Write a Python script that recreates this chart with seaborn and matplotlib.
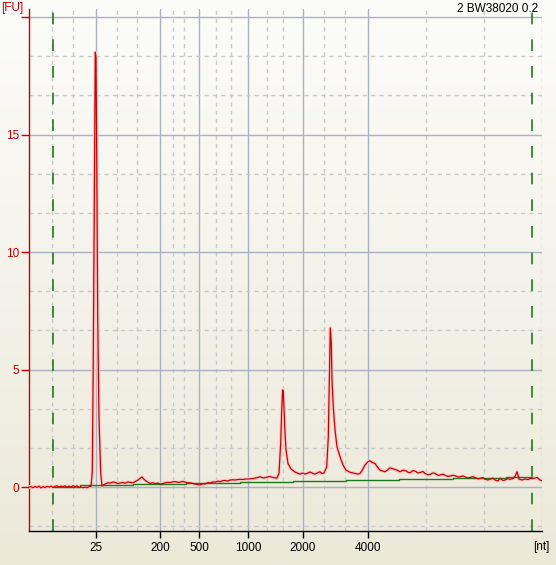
import numpy as np
import pandas as pd
import matplotlib
matplotlib.use("Agg")
import matplotlib.pyplot as plt
import seaborn as sns

# migration time (s) and fluorescence (FU)
trace_time = [19.0, 19.2, 19.4, 19.6, 19.8, 20.0, 20.2, 20.4, 20.6, 20.8, 21.0, 21.2, 21.4, 21.6,
              21.8, 22.0, 22.2, 22.4, 22.6, 22.8, 23.0, 23.2, 23.4, 23.6, 23.8, 24.0, 24.2, 24.4,
              24.6, 24.8, 25.0, 25.2, 25.33, 25.43, 25.57, 25.63, 25.7, 25.77, 25.87, 26.0, 26.17,
              26.3, 26.6, 26.9, 27.1, 27.4, 27.6, 27.9, 28.1, 28.4, 28.6, 28.9, 29.1, 29.4, 29.6,
              29.9, 30.1, 30.3, 30.5, 30.7, 30.9, 31.1, 31.4, 31.6, 31.9, 32.1, 32.4, 32.6, 32.9,
              33.1, 33.4, 33.6, 33.9, 34.1, 34.4, 34.6, 34.9, 35.1, 35.4, 35.6, 35.9, 36.1, 36.4,
              36.6, 36.9, 37.1, 37.4, 37.6, 37.9, 38.1, 38.4, 38.6, 38.9, 39.1, 39.4, 39.6, 39.9,
              40.1, 40.4, 40.6, 40.9, 41.1, 41.4, 41.6, 41.9, 42.1, 42.4, 42.6, 42.9, 43.1, 43.3,
              43.5, 43.8, 44.0, 44.17, 44.27, 44.37, 44.43, 44.5, 44.6, 44.7, 44.9, 45.2, 45.6,
              45.9, 46.1, 46.4, 46.6, 46.9, 47.1, 47.4, 47.6, 47.9, 48.1, 48.3, 48.5, 48.77, 48.93,
              49.03, 49.13, 49.23, 49.3, 49.43, 49.6, 49.8, 50.1, 50.4, 50.7, 51.1, 51.6, 51.9,
              52.1, 52.3, 52.6, 52.9, 53.1, 53.3, 53.6, 53.9, 54.1, 54.4, 54.6, 54.9, 55.1, 55.4,
              55.6, 55.9, 56.1, 56.4, 56.7, 56.9, 57.1, 57.4, 57.6, 57.9, 58.1, 58.4, 58.6, 58.9,
              59.1, 59.4, 59.6, 59.9, 60.1, 60.4, 60.6, 60.9, 61.1, 61.4, 61.6, 61.9, 62.1, 62.4,
              62.6, 62.9, 63.1, 63.4, 63.6, 63.9, 64.1, 64.4, 64.6, 64.9, 65.1, 65.4, 65.6, 65.9,
              66.1, 66.4, 66.6, 66.9, 67.1, 67.4, 67.6, 67.8, 68.0, 68.3, 68.6, 68.9, 69.1, 69.3,
              69.6, 69.8, 70.1, 70.3]
trace_fu = [0.0, 0.02, -0.03, 0.03, -0.02, 0.04, -0.04, 0.02, -0.02, 0.03, 0.0, 0.04, -0.02, 0.03,
            0.05, 0.0, 0.04, 0.02, 0.05, -0.01, 0.04, 0.0, 0.06, 0.02, 0.05, -0.01, 0.0, -0.03,
            0.0, -0.03, 0.02, 0.04, 0.64, 5.6, 14.2, 18.5, 18.3, 14.2, 7.2, 2.9, 0.6,
            0.04, 0.13, 0.18, 0.17, 0.21, 0.2, 0.15, 0.17, 0.2, 0.16, 0.22, 0.2, 0.18, 0.23,
            0.3, 0.37, 0.43, 0.33, 0.26, 0.2, 0.16, 0.18, 0.15, 0.17, 0.13, 0.15, 0.18, 0.2,
            0.19, 0.22, 0.23, 0.2, 0.21, 0.24, 0.21, 0.18, 0.18, 0.15, 0.13, 0.1, 0.09, 0.14,
            0.13, 0.19, 0.17, 0.22, 0.21, 0.25, 0.23, 0.27, 0.28, 0.26, 0.3, 0.31, 0.3, 0.32,
            0.33, 0.32, 0.34, 0.34, 0.35, 0.36, 0.38, 0.41, 0.44, 0.39, 0.4, 0.43, 0.45, 0.42,
            0.4, 0.38, 0.6, 1.87, 3.28, 4.13, 4.05, 3.28, 2.3, 1.57, 1.0, 0.77, 0.64,
            0.58, 0.55, 0.6, 0.55, 0.6, 0.64, 0.58, 0.55, 0.62, 0.65, 0.57, 0.6, 0.86, 2.14,
            4.55, 6.77, 6.1, 4.55, 3.4, 2.43, 1.71, 1.29, 0.94, 0.72, 0.63, 0.58, 0.55,
            0.58, 0.7, 0.94, 1.08, 1.12, 1.05, 1.0, 0.82, 0.72, 0.68, 0.65, 0.74, 0.82, 0.78,
            0.75, 0.7, 0.65, 0.72, 0.69, 0.63, 0.61, 0.7, 0.68, 0.6, 0.62, 0.66, 0.58, 0.52,
            0.54, 0.6, 0.58, 0.5, 0.51, 0.55, 0.5, 0.45, 0.47, 0.5, 0.48, 0.43, 0.44, 0.47,
            0.43, 0.39, 0.41, 0.44, 0.4, 0.35, 0.37, 0.4, 0.33, 0.3, 0.34, 0.38, 0.3, 0.26,
            0.37, 0.28, 0.3, 0.36, 0.33, 0.36, 0.45, 0.65, 0.34, 0.3, 0.34, 0.32, 0.36, 0.37,
            0.38, 0.41, 0.3, 0.27]

# baseline (green step line)
baseline_time = [21.4, 24.1, 29.4, 34.7, 40.1, 45.4, 50.7, 56.0, 61.4, 66.7, 69.3]
baseline_fu = [0.01, 0.09, 0.12, 0.16, 0.20, 0.25, 0.29, 0.33, 0.37, 0.43, 0.43]

# lower / upper marker positions
marker_time = [21.4, 69.3]

# size scale (nt) at ladder times
size_time = [25.7, 32.1, 36.0, 40.9, 46.4, 52.9]
size_labels = ["25", "200", "500", "1000", "2000", "4000"]
minor_time = [21.3, 23.4, 27.8, 29.8, 33.4, 34.5, 37.7, 39.2, 42.8, 44.4, 48.5, 50.6,
              58.7, 64.5, 70.3]

fu_ticks = [0, 5, 10, 15, 20]
fu_labels = ["0", "5", "10", "15", ""]
fu_minor = [-5 / 3, 5 / 3, 10 / 3, 20 / 3, 25 / 3, 35 / 3, 40 / 3, 50 / 3, 55 / 3]

sns.set_theme(style="white")
plt.rcParams["font.family"] = ["Liberation Sans", "DejaVu Sans"]

fig = plt.figure(figsize=(5.56, 5.65), dpi=100)

# background gradient over whole figure
bg = fig.add_axes([0, 0, 1, 1], zorder=-5)
top = np.array([252, 252, 250]) / 255
bot = np.array([236, 233, 217]) / 255
frac = np.linspace(0, 1, 256)[:, None]
grad = top[None, :] * (1 - frac) + bot[None, :] * frac
bg.imshow(grad[:, None, :], aspect="auto", extent=[0, 1, 0, 1])
bg.axis("off")

ax = fig.add_axes([29 / 556, 34 / 565, 513 / 556, 522 / 565])
ax.set_facecolor("none")

df = pd.DataFrame({"time": trace_time, "fu": trace_fu})
base = pd.DataFrame({"time": baseline_time, "fu": baseline_fu})

red = "#cc0000"
sns.lineplot(data=df, x="time", y="fu", ax=ax, color="#f6cccc", lw=2.6, sort=False,
             estimator=None, zorder=3)
sns.lineplot(data=base, x="time", y="fu", ax=ax, color="#1f7a1f", lw=1.0, sort=False,
             estimator=None, drawstyle="steps-post", zorder=4)
sns.lineplot(data=df, x="time", y="fu", ax=ax, color=red, lw=0.9, sort=False,
             estimator=None, zorder=5)

for t in marker_time:
    ax.axvline(t, color="#1f7a1f", lw=1.2, dashes=(7, 9), zorder=2)

ax.set_xlim(19, 70.3)
ax.set_ylim(-1.87, 20.34)

ax.set_xticks(size_time)
ax.set_xticklabels(size_labels)
ax.set_xticks(minor_time, minor=True)
ax.set_yticks(fu_ticks)
ax.set_yticklabels(fu_labels)
ax.set_yticks(fu_minor, minor=True)

ax.grid(which="major", color="#a9b1c2", lw=1.0, zorder=0)
ax.grid(which="minor", color="#c9c9c9", lw=1.0, ls=(0, (3, 3)), zorder=0)
ax.set_axisbelow(True)

ax.tick_params(axis="x", which="major", direction="out", length=5, width=1,
               color="black", labelsize=8.5, labelcolor="black", pad=3, bottom=True)
ax.tick_params(axis="y", which="major", direction="out", length=6, width=1,
               color=red, labelsize=8.5, labelcolor=red, pad=1, left=True)
ax.tick_params(which="minor", length=0)

for s in ["top", "right"]:
    ax.spines[s].set_visible(False)
ax.spines["left"].set_color(red)
ax.spines["left"].set_linewidth(1.0)
ax.spines["bottom"].set_color("black")
ax.spines["bottom"].set_linewidth(1.0)
ax.set_xlabel("")
ax.set_ylabel("")

fig.text(1 / 556, 1 - 2 / 565, "[FU]", color=red, fontsize=8.5, ha="left", va="top")
fig.text(538 / 556, 1 - 3 / 565, "2 BW38020 0.2", color="black", fontsize=8.5,
         ha="right", va="top")
fig.text(533 / 556, 1 - 541 / 565, "[nt]", color="black", fontsize=8.5, ha="left", va="top")

fig.savefig("out.png", dpi=100)
